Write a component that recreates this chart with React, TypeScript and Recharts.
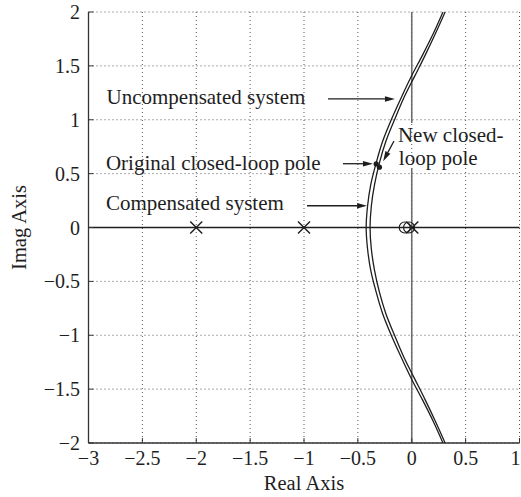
import {
  CartesianGrid,
  Label,
  ReferenceDot,
  ReferenceLine,
  Scatter,
  ScatterChart,
  XAxis,
  YAxis,
} from "recharts";

type Pt = { x: number; y: number };

const xTicks = [-3, -2.5, -2, -1.5, -1, -0.5, 0, 0.5, 1];
const yTicks = [-2, -1.5, -1, -0.5, 0, 0.5, 1, 1.5, 2];

// root locus branches (ordered bottom -> top)
const uncompensated: Pt[] = [
  { x: 0.29, y: -2 },
  { x: 0.2, y: -1.8 },
  { x: 0.1, y: -1.6 },
  { x: 0, y: -1.41 },
  { x: -0.1, y: -1.2 },
  { x: -0.19, y: -1 },
  { x: -0.27, y: -0.8 },
  { x: -0.33, y: -0.6 },
  { x: -0.38, y: -0.4 },
  { x: -0.41, y: -0.2 },
  { x: -0.423, y: 0 },
  { x: -0.41, y: 0.2 },
  { x: -0.38, y: 0.4 },
  { x: -0.33, y: 0.6 },
  { x: -0.27, y: 0.8 },
  { x: -0.19, y: 1 },
  { x: -0.1, y: 1.2 },
  { x: 0, y: 1.41 },
  { x: 0.1, y: 1.6 },
  { x: 0.2, y: 1.8 },
  { x: 0.29, y: 2 },
];

const compensated: Pt[] = [
  { x: 0.31, y: -2 },
  { x: 0.22, y: -1.8 },
  { x: 0.125, y: -1.6 },
  { x: 0.025, y: -1.4 },
  { x: -0.075, y: -1.2 },
  { x: -0.16, y: -1 },
  { x: -0.24, y: -0.8 },
  { x: -0.3, y: -0.6 },
  { x: -0.345, y: -0.4 },
  { x: -0.375, y: -0.2 },
  { x: -0.387, y: 0 },
  { x: -0.375, y: 0.2 },
  { x: -0.345, y: 0.4 },
  { x: -0.3, y: 0.6 },
  { x: -0.24, y: 0.8 },
  { x: -0.16, y: 1 },
  { x: -0.075, y: 1.2 },
  { x: 0.025, y: 1.4 },
  { x: 0.125, y: 1.6 },
  { x: 0.22, y: 1.8 },
  { x: 0.31, y: 2 },
];

const poles: Pt[] = [
  { x: -2, y: 0 },
  { x: -1, y: 0 },
  { x: 0.005, y: 0 },
];
const zeros: Pt[] = [
  { x: -0.065, y: 0 },
  { x: -0.025, y: 0 },
];
const closedLoopPoles: Pt[] = [
  { x: -0.33, y: 0.59 },
  { x: -0.3, y: 0.56 },
];

const noteTexts = [
  "Uncompensated system",
  "Original closed-loop pole",
  "Compensated system",
  "New closed-",
  "loop pole",
];
const noteAnchors: Pt[] = [
  { x: -2.833, y: 1.146 },
  { x: -2.838, y: 0.538 },
  { x: -2.838, y: 0.158 },
  { x: -0.128, y: 0.795 },
  { x: -0.12, y: 0.58 },
];
const arrowSegments: [Pt, Pt][] = [
  [{ x: -0.777, y: 1.193 }, { x: -0.156, y: 1.193 }],
  [{ x: -0.638, y: 0.592 }, { x: -0.36, y: 0.592 }],
  [{ x: -0.972, y: 0.202 }, { x: -0.415, y: 0.202 }],
  [{ x: -0.165, y: 0.803 }, { x: -0.265, y: 0.615 }],
];

const FONT =
  "'Liberation Serif', 'Times New Roman', Times, Tinos, 'DejaVu Serif', 'Noto Serif', serif";
const INK = "#1e1e1e";

const fmt = (v: number) => String(v).replace("-", "\u2212");

function XTick(props: any) {
  const { x, y, payload } = props;
  const last = payload.value === xTicks[xTicks.length - 1];
  return (
    <text
      x={last ? x + 1 : x}
      y={y + 14}
      textAnchor={last ? "end" : "middle"}
      fill={INK}
      fontSize={20}
      style={{ fontFamily: FONT }}
    >
      {fmt(payload.value)}
    </text>
  );
}

function YTick(props: any) {
  const { x, y, payload } = props;
  return (
    <text x={x} y={y + 7} textAnchor="end" fill={INK} fontSize={20} style={{ fontFamily: FONT }}>
      {fmt(payload.value)}
    </text>
  );
}

function Cross(props: any) {
  const { cx, cy } = props;
  const s = 6;
  return (
    <g stroke={INK} strokeWidth={1.5}>
      <line x1={cx - s} y1={cy - s} x2={cx + s} y2={cy + s} />
      <line x1={cx - s} y1={cy + s} x2={cx + s} y2={cy - s} />
    </g>
  );
}

function Ring(props: any) {
  const { cx, cy } = props;
  return <circle cx={cx} cy={cy} r={5.5} fill="none" stroke={INK} strokeWidth={1.2} />;
}

function Dot(props: any) {
  const { cx, cy } = props;
  return <circle cx={cx} cy={cy} r={2.6} fill={INK} />;
}

function Arrow(props: any) {
  const { x1, y1, x2, y2 } = props;
  const dx = x2 - x1;
  const dy = y2 - y1;
  const len = Math.hypot(dx, dy) || 1;
  const ux = dx / len;
  const uy = dy / len;
  const hl = 10;
  const hw = 2.8;
  const bx = x2 - ux * hl;
  const by = y2 - uy * hl;
  return (
    <g>
      <line x1={x1} y1={y1} x2={bx} y2={by} stroke={INK} strokeWidth={1.3} />
      <polygon
        points={`${x2},${y2} ${bx - uy * hw},${by + ux * hw} ${bx + uy * hw},${by - ux * hw}`}
        fill={INK}
      />
    </g>
  );
}

export default function App() {
  return (
    <div style={{ position: "absolute", left: 0, top: 0, background: "#fff", fontFamily: FONT }}>
      <ScatterChart width={521} height={497} margin={{ top: 12, right: 1.5, bottom: 0, left: 0 }}>
        <CartesianGrid stroke="#555" strokeDasharray="1 3" />
        <XAxis
          type="number"
          dataKey="x"
          domain={[-3, 1]}
          ticks={xTicks}
          interval={0}
          allowDataOverflow
          height={54}
          tickSize={-5}
          tickMargin={13}
          axisLine={{ stroke: "#333", strokeWidth: 1.3 }}
          tickLine={{ stroke: "#333" }}
          tick={<XTick />}
        >
          <Label
            value="Real Axis"
            position="insideBottom"
            offset={7}
            style={{ fill: INK, fontSize: 20.5, fontFamily: FONT }}
          />
        </XAxis>
        <XAxis
          xAxisId="top"
          orientation="top"
          type="number"
          dataKey="x"
          domain={[-3, 1]}
          ticks={xTicks}
          interval={0}
          height={0}
          tickSize={-5}
          tick={false}
          axisLine={{ stroke: "#333", strokeWidth: 1.3 }}
          tickLine={{ stroke: "#333" }}
        />
        <YAxis
          type="number"
          dataKey="y"
          domain={[-2, 2]}
          ticks={yTicks}
          interval={0}
          allowDataOverflow
          width={88.5}
          tickSize={-5}
          tickMargin={13.5}
          axisLine={{ stroke: "#333", strokeWidth: 1.3 }}
          tickLine={{ stroke: "#333" }}
          tick={<YTick />}
        >
          <Label
            value="Imag Axis"
            angle={-90}
            position="insideLeft"
            offset={19}
            style={{ fill: INK, fontSize: 20.5, fontFamily: FONT, textAnchor: "middle" }}
          />
        </YAxis>
        <YAxis
          yAxisId="right"
          orientation="right"
          type="number"
          dataKey="y"
          domain={[-2, 2]}
          ticks={yTicks}
          interval={0}
          width={0}
          tickSize={-5}
          tick={false}
          axisLine={{ stroke: "#333", strokeWidth: 1.3 }}
          tickLine={{ stroke: "#333" }}
        />

        <ReferenceLine y={0} stroke={INK} strokeWidth={1.6} />
        <ReferenceLine
          segment={[
            { x: 0, y: -2 },
            { x: 0, y: 0.55 },
          ]}
          stroke="#6e6e6e"
          strokeWidth={1.6}
        />
        <ReferenceLine
          segment={[
            { x: 0, y: 0.97 },
            { x: 0, y: 2 },
          ]}
          stroke="#6e6e6e"
          strokeWidth={1.6}
        />

        <Scatter
          data={uncompensated}
          line={{ stroke: INK, strokeWidth: 1.3 }}
          lineJointType="monotoneY"
          shape={() => <g />}
          isAnimationActive={false}
        />
        <Scatter
          data={compensated}
          line={{ stroke: INK, strokeWidth: 1.3 }}
          lineJointType="monotoneY"
          shape={() => <g />}
          isAnimationActive={false}
        />
        <Scatter data={poles} shape={Cross} isAnimationActive={false} />
        <Scatter data={zeros} shape={Ring} isAnimationActive={false} />
        <Scatter data={closedLoopPoles} shape={Dot} isAnimationActive={false} />

        {arrowSegments.map((seg, i) => (
          <ReferenceLine key={`a${i}`} segment={seg} shape={Arrow} />
        ))}
        {noteTexts.map((t, i) => (
          <ReferenceDot
            key={`n${i}`}
            x={noteAnchors[i].x}
            y={noteAnchors[i].y}
            shape={(p: any) => (
              <text x={p.cx} y={p.cy} fill={INK} fontSize={21} style={{ fontFamily: FONT }}>
                {t}
              </text>
            )}
          />
        ))}
      </ScatterChart>
    </div>
  );
}
